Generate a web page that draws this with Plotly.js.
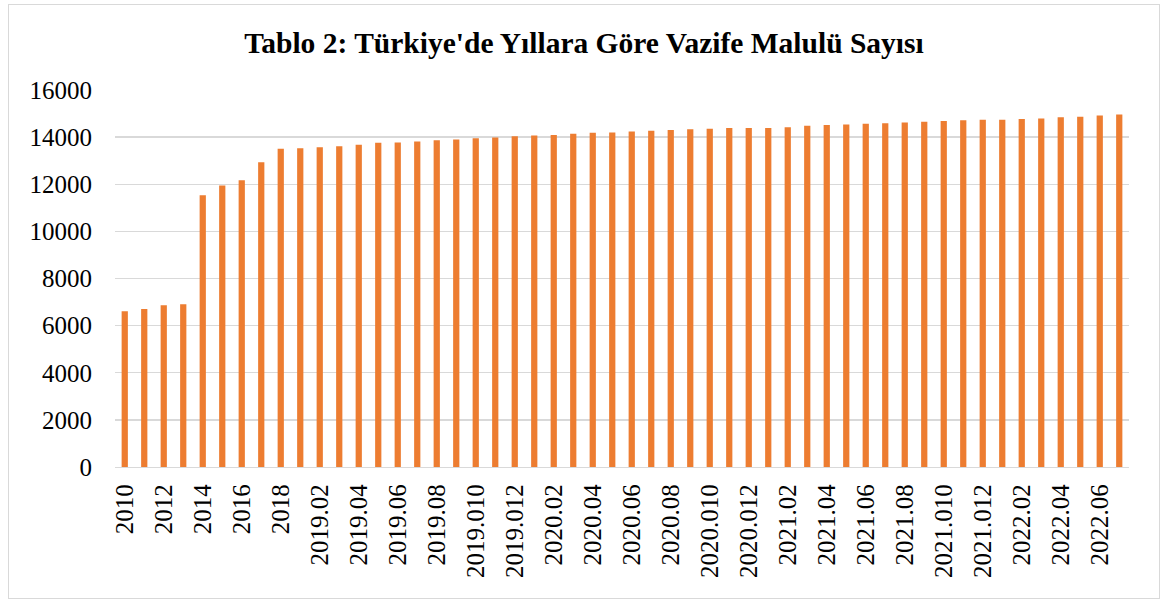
<!DOCTYPE html>
<html>
<head>
<meta charset="utf-8">
<script src="https://cdn.plot.ly/plotly-3.0.1.min.js"></script>
<style>
  html, body { margin: 0; padding: 0; background: #ffffff; }
  #frame { position: absolute; left: 8px; top: 4px; width: 1150px; height: 593px; border: 1px solid #D9D9D9; background: #fff; }
  #chart { width: 1150px; height: 593px; }
</style>
</head>
<body>
<div id="frame"><div id="chart"></div></div>
<script>
const categories = [
  "2010","2011","2012","2013","2014","2015","2016","2017","2018",
  "2019.01","2019.02","2019.03","2019.04","2019.05","2019.06","2019.07","2019.08","2019.09","2019.010","2019.011","2019.012",
  "2020.01","2020.02","2020.03","2020.04","2020.05","2020.06","2020.07","2020.08","2020.09","2020.010","2020.011","2020.012",
  "2021.01","2021.02","2021.03","2021.04","2021.05","2021.06","2021.07","2021.08","2021.09","2021.010","2021.011","2021.012",
  "2022.01","2022.02","2022.03","2022.04","2022.05","2022.06","2022.07"
];
const vazifeMalulu = [
  6610, 6710, 6860, 6910, 11530, 11950, 12170, 12930, 13510,
  13530, 13575, 13615, 13675, 13760, 13775, 13815, 13870, 13900, 13955, 13985, 14040,
  14070, 14085, 14145, 14185, 14200, 14240, 14270, 14300, 14330, 14355, 14385, 14390,
  14390, 14420, 14485, 14510, 14540, 14570, 14585, 14625, 14655, 14680, 14720, 14740,
  14740, 14765, 14795, 14840, 14870, 14920, 14955
];
const shownTicks = categories.filter((c, i) => i % 2 === 0);
const yTicks = [0, 2000, 4000, 6000, 8000, 10000, 12000, 14000, 16000];
const chartTitle = "Tablo 2: Türkiye'de Yıllara Göre Vazife Malulü Sayısı";

const serif = '"Liberation Serif", "Times New Roman", serif';

Plotly.newPlot('chart', [{
  type: 'bar',
  x: categories,
  y: vazifeMalulu,
  marker: { color: '#ED7D31' },
  hoverinfo: 'x+y'
}], {
  width: 1150,
  height: 593,
  margin: { l: 106, r: 30, t: 85, b: 131 },
  paper_bgcolor: '#ffffff',
  plot_bgcolor: '#ffffff',
  bargap: 0.68,
  showlegend: false,
  title: {
    text: '<b>' + chartTitle + '</b>',
    font: { family: serif, size: 29.5, color: '#000000' },
    x: 0.5, xanchor: 'center',
    y: 1 - 38 / 593, yanchor: 'middle'
  },
  xaxis: {
    type: 'category',
    tickmode: 'array',
    tickvals: shownTicks,
    ticktext: shownTicks,
    tickangle: -90,
    tickfont: { family: serif, size: 25, color: '#000000' },
    showgrid: false,
    showline: true,
    linecolor: '#D9D9D9',
    linewidth: 1.3,
    ticks: '',
    ticklabelstandoff: 6
  },
  yaxis: {
    range: [0, 16000],
    tickmode: 'array',
    tickvals: yTicks,
    ticktext: yTicks.map(String),
    tickfont: { family: serif, size: 25, color: '#000000' },
    showgrid: true,
    gridcolor: '#D9D9D9',
    gridwidth: 1.3,
    zeroline: false,
    showline: false,
    ticks: '',
    ticklabelstandoff: 22
  }
}, { displayModeBar: false, staticPlot: true });
</script>
</body>
</html>
